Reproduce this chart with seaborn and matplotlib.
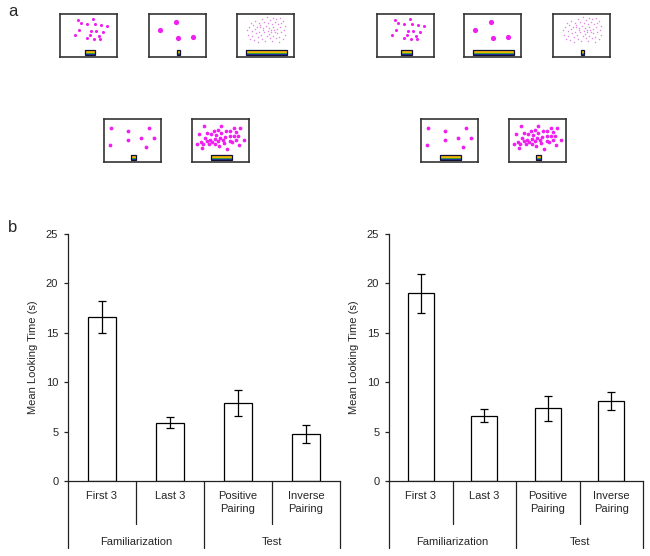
import matplotlib
matplotlib.use("Agg")
import matplotlib.pyplot as plt
from matplotlib.patches import Rectangle
import seaborn as sns

# ---- data -------------------------------------------------------------
conditions = ["First 3", "Last 3", "Positive\nPairing", "Inverse\nPairing"]
groups = ["Familiarization", "Test"]

left_means = [16.6, 5.9, 7.9, 4.75]
left_sem = [1.6, 0.55, 1.3, 0.9]
right_means = [19.0, 6.6, 7.35, 8.1]
right_sem = [2.0, 0.65, 1.25, 0.95]

# stimulus dot patterns (fraction of the box)
dots15_x = [0.318, 0.578, 0.370, 0.474, 0.613, 0.723, 0.832, 0.335, 0.549,
            0.636, 0.763, 0.266, 0.526, 0.682, 0.480, 0.590, 0.694]
dots15_y = [0.866, 0.882, 0.787, 0.772, 0.772, 0.748, 0.732, 0.622, 0.606,
            0.606, 0.591, 0.504, 0.504, 0.488, 0.433, 0.409, 0.409]
dots4_x = [0.189, 0.479, 0.509, 0.769]
dots4_y = [0.638, 0.819, 0.441, 0.465]
cloud_x = [0.25, 0.31, 0.38, 0.44, 0.52, 0.58, 0.63, 0.69, 0.75, 0.81,
           0.21, 0.28, 0.35, 0.41, 0.47, 0.55, 0.61, 0.66, 0.72, 0.78, 0.84,
           0.18, 0.26, 0.32, 0.39, 0.45, 0.50, 0.57, 0.63, 0.70, 0.76, 0.82,
           0.20, 0.27, 0.34, 0.42, 0.48, 0.54, 0.60, 0.65, 0.71, 0.78, 0.85,
           0.23, 0.30, 0.37, 0.44, 0.52, 0.58, 0.64, 0.69, 0.74, 0.80,
           0.36, 0.49, 0.62, 0.73, 0.56, 0.67, 0.46, 0.40, 0.59]
cloud_y = [0.78, 0.84, 0.80, 0.88, 0.92, 0.86, 0.91, 0.88, 0.90, 0.84,
           0.70, 0.74, 0.69, 0.75, 0.81, 0.79, 0.77, 0.82, 0.76, 0.79, 0.73,
           0.62, 0.60, 0.64, 0.59, 0.67, 0.72, 0.68, 0.70, 0.66, 0.69, 0.63,
           0.52, 0.49, 0.55, 0.51, 0.58, 0.61, 0.57, 0.62, 0.55, 0.58, 0.52,
           0.42, 0.40, 0.46, 0.43, 0.48, 0.45, 0.50, 0.44, 0.47, 0.42,
           0.36, 0.38, 0.37, 0.36, 0.53, 0.57, 0.62, 0.70, 0.63]
dots8_x = [0.116, 0.424, 0.791, 0.110, 0.424, 0.651, 0.884, 0.744]
dots8_y = [0.787, 0.732, 0.787, 0.394, 0.512, 0.567, 0.567, 0.346]
dots40_x = [0.207, 0.511, 0.736, 0.839, 0.379, 0.460, 0.592, 0.667, 0.126, 0.259,
            0.339, 0.420, 0.517, 0.770, 0.586, 0.661, 0.730, 0.810, 0.236, 0.316,
            0.402, 0.489, 0.155, 0.264, 0.356, 0.460, 0.540, 0.667, 0.770, 0.914,
            0.080, 0.190, 0.305, 0.397, 0.569, 0.701, 0.172, 0.466, 0.615, 0.828]
dots40_y = [0.837, 0.829, 0.783, 0.783, 0.729, 0.744, 0.721, 0.721, 0.659, 0.667,
            0.643, 0.620, 0.674, 0.698, 0.589, 0.605, 0.605, 0.605, 0.566, 0.512,
            0.535, 0.558, 0.473, 0.481, 0.473, 0.481, 0.504, 0.481, 0.504, 0.504,
            0.411, 0.419, 0.411, 0.411, 0.434, 0.457, 0.333, 0.364, 0.295, 0.388]

# bar (line) length under each stimulus, fraction of box width
row1_left_bars = [0.175, 0.047, 0.725]
row1_right_bars = [0.19, 0.72, 0.048]
row2_left_bars = [0.085, 0.37]
row2_right_bars = [0.38, 0.10]

# ---- style ------------------------------------------------------------
sns.set_style("ticks")
plt.rcParams["font.family"] = ["Liberation Sans", "DejaVu Sans"]
plt.rcParams["font.size"] = 8

fig = plt.figure(figsize=(6.5, 5.56), dpi=100)
W, H = 650.0, 556.0

dot_styles = {
    "d15": (dots15_x, dots15_y, "#f01ef0", 3.1),
    "d4": (dots4_x, dots4_y, "#f01ef0", 5.2),
    "cloud": (cloud_x, cloud_y, "#e08ae8", 1.5),
    "d8": (dots8_x, dots8_y, "#f01ef0", 3.8),
    "d40": (dots40_x, dots40_y, "#f01ef0", 3.7),
}
stripe_colors = ["#2233aa", "#3a9a3a", "#f2b800", "#f2b800", "#d42a1e"]


def stimulus(px, py, pattern, bar_w):
    ax = fig.add_axes([px / W, (H - py - 43) / H, 57 / W, 43 / H])
    ax.set_xlim(0, 1)
    ax.set_ylim(0, 1)
    ax.set_xticks([])
    ax.set_yticks([])
    for s in ax.spines.values():
        s.set_color("#333333")
        s.set_linewidth(1.2)
    xs, ys, col, size = dot_styles[pattern]
    ax.plot(xs, ys, "o", color=col, ms=size * 0.72, mec="none")
    x0 = 0.52 - bar_w / 2
    h = 0.12 / len(stripe_colors)
    for i, c in enumerate(stripe_colors):
        ax.add_patch(Rectangle((x0, 0.05 + i * h), bar_w, h, color=c, lw=0))
    ax.add_patch(Rectangle((x0, 0.05), bar_w, 0.12, fill=False,
                           ec="#111133", lw=0.9))


for px, pat, bw in zip([60, 149, 237], ["d15", "d4", "cloud"], row1_left_bars):
    stimulus(px, 14, pat, bw)
for px, pat, bw in zip([377, 464, 553], ["d15", "d4", "cloud"], row1_right_bars):
    stimulus(px, 14, pat, bw)
for px, pat, bw in zip([104, 192], ["d8", "d40"], row2_left_bars):
    stimulus(px, 119, pat, bw)
for px, pat, bw in zip([421, 509], ["d8", "d40"], row2_right_bars):
    stimulus(px, 119, pat, bw)

fig.text(8 / W, 1 - 12 / H, "a", fontsize=12, va="center", ha="left")
fig.text(8 / W, 1 - 228 / H, "b", fontsize=12, va="center", ha="left")


def bar_panel(left_px, right_px, means, sem):
    ax = fig.add_axes([left_px / W, (H - 481) / H, (right_px - left_px) / W, 247 / H])
    sns.barplot(x=conditions, y=means, ax=ax, color="white", edgecolor="black",
                linewidth=0.9, width=0.41, errorbar=None)
    ax.errorbar(range(len(means)), means, yerr=sem, fmt="none", ecolor="black",
                elinewidth=0.9, capsize=3, capthick=0.9)
    ax.set_xlim(-0.5, 3.5)
    ax.set_ylim(0, 25)
    ax.set_yticks([0, 5, 10, 15, 20, 25])
    ax.set_ylabel("Mean Looking Time (s)", fontsize=8, labelpad=6)
    sns.despine(ax=ax)
    for s in ["left", "bottom"]:
        ax.spines[s].set_color("#222222")
        ax.spines[s].set_linewidth(0.9)
    ax.tick_params(axis="y", length=3, width=0.9, labelsize=8, pad=4)
    ax.tick_params(axis="x", length=0, labelsize=8, pad=7)
    for t in ax.get_xticklabels():
        t.set_linespacing(1.45)
    tr = ax.get_xaxis_transform()
    for xpos, depth in zip([-0.5, 0.5, 1.5, 2.5, 3.5],
                           [-0.272, -0.175, -0.272, -0.175, -0.272]):
        ax.plot([xpos, xpos], [0, depth], transform=tr, color="#222222",
                lw=0.9, clip_on=False)
    ax.text(0.5, -0.248, groups[0], transform=tr, ha="center", va="center", fontsize=8)
    ax.text(2.5, -0.248, groups[1], transform=tr, ha="center", va="center", fontsize=8)
    return ax


bar_panel(68, 340, left_means, left_sem)
bar_panel(389, 643, right_means, right_sem)

fig.savefig("out.png", dpi=100)
